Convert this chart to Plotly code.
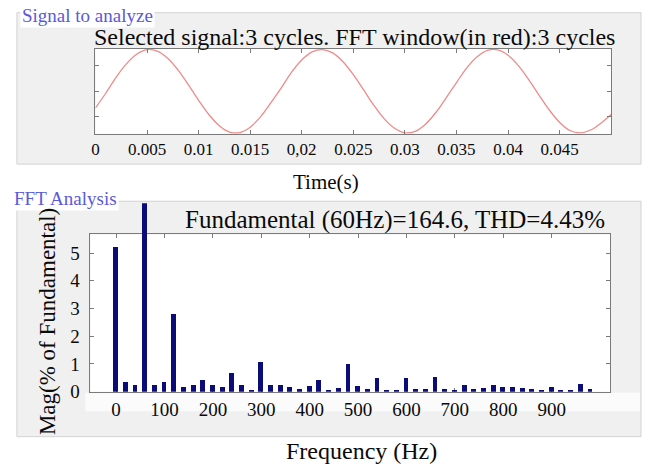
import plotly.graph_objects as go

# ---------------- data ----------------
time_s = [0.000, 0.001, 0.002, 0.003, 0.004, 0.005, 0.006, 0.007, 0.008, 0.009,
          0.010, 0.011, 0.012, 0.013, 0.014, 0.015, 0.016, 0.017, 0.018, 0.019,
          0.020, 0.021, 0.022, 0.023, 0.024, 0.025, 0.026, 0.027, 0.028, 0.029,
          0.030, 0.031, 0.032, 0.033, 0.034, 0.035, 0.036, 0.037, 0.038, 0.039,
          0.040, 0.041, 0.042, 0.043, 0.044, 0.045, 0.046, 0.047, 0.048, 0.049,
          0.050]
signal = [-66, -8, 55, 108, 146, 164, 158, 130, 84, 26,
          -36, -92, -136, -161, -163, -142, -101, -46, 12, 74,
          123, 155, 164, 151, 116, 65, 5, -56, -109, -146,
          -164, -158, -130, -84, -26, 34, 92, 136, 161, 163,
          142, 101, 46, -15, -74, -123, -155, -164, -153, -126,
          -92]

freq_hz = [0, 20, 40, 60, 80, 100, 120, 140, 160, 180,
           200, 220, 240, 260, 280, 300, 320, 340, 360, 380,
           400, 420, 440, 460, 480, 500, 520, 540, 560, 580,
           600, 620, 640, 660, 680, 700, 720, 740, 760, 780,
           800, 820, 840, 860, 880, 900, 920, 940, 960, 980]
# 60 Hz is the fundamental (100 %), its bar runs off the top of the axes
mag_pct = [5.22, 0.33, 0.25, 100.0, 0.22, 0.33, 2.78, 0.18, 0.22, 0.42,
           0.24, 0.15, 0.67, 0.25, 0.05, 1.05, 0.25, 0.25, 0.17, 0.10,
           0.20, 0.42, 0.05, 0.12, 1.00, 0.20, 0.10, 0.48, 0.05, 0.05,
           0.48, 0.10, 0.10, 0.52, 0.10, 0.03, 0.25, 0.10, 0.14, 0.25,
           0.17, 0.17, 0.12, 0.08, 0.07, 0.15, 0.03, 0.04, 0.28, 0.10]

time_ticks = [0, 0.005, 0.01, 0.015, 0.02, 0.025, 0.03, 0.035, 0.04, 0.045]
time_tick_text = ["0", "0.005", "0.01", "0.015", "0,02", "0.025", "0.03", "0.035", "0.04", "0.045"]
freq_ticks = [0, 100, 200, 300, 400, 500, 600, 700, 800, 900]
mag_ticks = [0, 1, 2, 3, 4, 5]

title_top = "Selected signal:3 cycles. FFT window(in red):3 cycles"
title_fft = "Fundamental (60Hz)=164.6, THD=4.43%"

# ---------------- layout helpers ----------------
W, H = 645, 476
def px(x):
    return x / W
def py(y):
    return 1 - y / H

SERIF = "Liberation Serif, Times New Roman, serif"
AXC = "#7a7a7a"
TXT = "#0a0a0a"

# bottom axes: 0 at y=401 px, top at 240 px
MAG_TOP = 5.67
BAR_TOP_PX = 208
mag_full_top = MAG_TOP * (401 - BAR_TOP_PX) / (401 - 240)
FREQ_RANGE = [-53, 1021]

fig = go.Figure()

fig.add_trace(go.Scatter(
    x=time_s, y=signal, mode="lines", line=dict(color="#f08a8a", width=1.3, shape="spline"),
    xaxis="x", yaxis="y", showlegend=False, hoverinfo="skip"))

# empty trace so that the framed x2/y2 subplot exists
fig.add_trace(go.Scatter(x=[None], y=[None], mode="markers", xaxis="x2", yaxis="y2",
                         showlegend=False, hoverinfo="skip"))

# bars drawn on hidden x3/y3 axes with the same scale but a taller domain,
# so the fundamental bar can rise above the framed axes
fig.add_trace(go.Bar(
    x=freq_hz, y=mag_pct, width=10, marker=dict(color="#0b0b7a", line=dict(width=0)),
    xaxis="x3", yaxis="y3", showlegend=False))

common_axis = dict(showline=True, linecolor=AXC, linewidth=1, mirror="ticks",
                   ticks="inside", ticklen=4, tickcolor=AXC, showgrid=False,
                   zeroline=False)

fig.update_layout(
    width=W, height=H, margin=dict(l=0, r=0, t=0, b=0),
    paper_bgcolor="white", plot_bgcolor="rgba(0,0,0,0)",
    bargap=0,
    xaxis=dict(domain=[px(92), px(611)], range=[0, 0.05], tickvals=time_ticks,
               ticktext=time_tick_text, anchor="y",
               tickfont=dict(family=SERIF, color=TXT, size=17), **common_axis),
    yaxis=dict(domain=[py(137), py(50)], range=[-168, 167], tickvals=[-100, 0, 100],
               showticklabels=False, anchor="x", **common_axis),
    xaxis2=dict(domain=[px(87), px(610)], range=FREQ_RANGE, tickvals=freq_ticks,
                anchor="y2", tickfont=dict(family=SERIF, color=TXT, size=19), **common_axis),
    yaxis2=dict(domain=[py(401), py(240)], range=[0, MAG_TOP], tickvals=mag_ticks,
                anchor="x2", ticklabelstandoff=6,
                tickfont=dict(family=SERIF, color=TXT, size=19), **common_axis),
    xaxis3=dict(domain=[px(87), px(610)], range=FREQ_RANGE, anchor="y3",
                visible=False, showgrid=False, zeroline=False),
    yaxis3=dict(domain=[py(401), py(BAR_TOP_PX)], range=[0, mag_full_top],
                anchor="x3", visible=False, showgrid=False, zeroline=False),
    shapes=[
        dict(type="rect", xref="paper", yref="paper", x0=px(13), x1=px(641), y0=py(168), y1=py(13),
             fillcolor="#f0f0f0", line=dict(color="#d2d2d2", width=1), layer="below"),
        dict(type="rect", xref="paper", yref="paper", x0=px(13), x1=px(641), y0=py(447), y1=py(206),
             fillcolor="#f0f0f0", line=dict(color="#d2d2d2", width=1), layer="below"),
        dict(type="rect", xref="paper", yref="paper", x0=px(82), x1=px(640), y0=py(421), y1=py(402),
             fillcolor="#fbfbfb", line=dict(width=0), layer="below"),
        dict(type="rect", xref="paper", yref="paper", x0=px(92), x1=px(611), y0=py(137), y1=py(50),
             fillcolor="white", line=dict(width=0), layer="below"),
        dict(type="rect", xref="paper", yref="paper", x0=px(87), x1=px(610), y0=py(401), y1=py(240),
             fillcolor="white", line=dict(width=0), layer="below"),
    ],
    annotations=[
        dict(text="Signal to analyze", x=px(16), y=py(16), xref="paper", yref="paper",
             xanchor="left", yanchor="middle", showarrow=False,
             font=dict(family=SERIF, size=19, color="#5a5ad8"), bgcolor="white"),
        dict(text=title_top, x=px(353), y=py(38), xref="paper", yref="paper",
             xanchor="center", yanchor="middle", showarrow=False,
             font=dict(family=SERIF, size=24, color=TXT)),
        dict(text="Time(s)", x=px(324), y=py(186), xref="paper", yref="paper",
             xanchor="center", yanchor="middle", showarrow=False,
             font=dict(family=SERIF, size=21, color=TXT)),
        dict(text="FFT Analysis", x=px(8), y=py(203), xref="paper", yref="paper",
             xanchor="left", yanchor="middle", showarrow=False,
             font=dict(family=SERIF, size=19, color="#5a5ad8"), bgcolor="white"),
        dict(text=title_fft, x=px(393), y=py(225), xref="paper", yref="paper",
             xanchor="center", yanchor="middle", showarrow=False,
             font=dict(family=SERIF, size=25, color=TXT)),
        dict(text="Mag(% of Fundamental)", x=px(44), y=py(329), xref="paper", yref="paper",
             xanchor="center", yanchor="middle", showarrow=False, textangle=-90,
             font=dict(family=SERIF, size=23, color=TXT)),
        dict(text="Frequency (Hz)", x=px(360), y=py(462), xref="paper", yref="paper",
             xanchor="center", yanchor="middle", showarrow=False,
             font=dict(family=SERIF, size=24, color=TXT)),
    ],
)

fig.write_html("out.html")
